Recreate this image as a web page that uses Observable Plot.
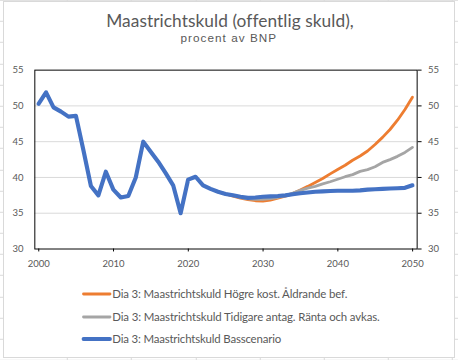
<!DOCTYPE html>
<html>
<head>
<meta charset="utf-8">
<script src="https://cdn.jsdelivr.net/npm/d3@7"></script>
<script src="https://cdn.jsdelivr.net/npm/@observablehq/plot@0.6"></script>
<style>
  html, body { margin: 0; padding: 0; }
  body {
    width: 458px; height: 360px; overflow: hidden; position: relative;
    background-color: #fff;
    background-image:
      repeating-linear-gradient(to bottom, transparent 0, transparent 20.19px, #dadada 20.19px, #dadada 21.19px),
      repeating-linear-gradient(to right, transparent 0, transparent 63.2px, #dadada 63.2px, #dadada 64.2px);
    background-position: 0 0.8px, 3.8px 0;
    font-family: Lato, "Liberation Sans", sans-serif;
  }
  #chart {
    position: absolute; left: 3px; top: 1px; width: 450px; height: 355px;
    background: #fff; border: 1px solid #d9d9d9;
  }
  .t { position: absolute; white-space: nowrap; color: #595959; line-height: 1; }
  #plot { position: absolute; left: -4px; top: 49px; }
  .leg { position: absolute; }
</style>
</head>
<body>
<div id="chart"></div>
<script>
const title = "Maastrichtskuld (offentlig skuld),";
const subtitle = "procent av BNP";
const seriesNames = [
  "Dia 3: Maastrichtskuld Högre kost. Åldrande bef.",
  "Dia 3: Maastrichtskuld Tidigare antag. Ränta och avkas.",
  "Dia 3: Maastrichtskuld Basscenario"
];
const seriesColors = ["#ED7D31", "#A5A5A5", "#4472C4"];

const years = [2000,2001,2002,2003,2004,2005,2006,2007,2008,2009,
  2010,2011,2012,2013,2014,2015,2016,2017,2018,2019,
  2020,2021,2022,2023,2024,2025,2026,2027,2028,2029,
  2030,2031,2032,2033,2034,2035,2036,2037,2038,2039,
  2040,2041,2042,2043,2044,2045,2046,2047,2048,2049,2050];

const basscenario = [50.3,51.9,49.8,49.2,48.5,48.6,43.8,38.8,37.5,40.8,
  38.3,37.2,37.4,40.0,45.0,43.6,42.2,40.6,38.9,35.0,
  39.7,40.1,38.9,38.4,38.0,37.7,37.5,37.3,37.15,37.2,
  37.3,37.35,37.4,37.5,37.65,37.8,37.9,38.0,38.05,38.1,
  38.15,38.15,38.15,38.2,38.3,38.35,38.4,38.45,38.5,38.55,38.9];

const projYears = [2024,2025,2026,2027,2028,2029,2030,2031,2032,2033,
  2034,2035,2036,2037,2038,2039,2040,2041,2042,2043,
  2044,2045,2046,2047,2048,2049,2050];

const hogreKost = [38.0,37.7,37.4,37.1,36.9,36.75,36.7,36.85,37.1,37.4,
  37.75,38.25,38.75,39.3,39.85,40.5,41.1,41.7,42.4,43.0,
  43.7,44.6,45.6,46.7,48.0,49.5,51.2];

const tidigareAntag = [38.0,37.7,37.45,37.2,37.0,36.95,36.95,37.05,37.2,37.45,
  37.8,38.2,38.5,38.75,39.1,39.4,39.75,40.1,40.4,40.85,
  41.1,41.5,42.1,42.5,42.95,43.5,44.2];

const xTicks = [2000, 2010, 2020, 2030, 2040, 2050];
const yTicks = [30, 35, 40, 45, 50, 55];
const gridTicks = [35, 40, 45, 50];

const FONT = 'Lato';
const FONTS = {
  Lato: {cap: 0.7165, asc: 0.987, desc: 0.213},
  'Liberation Sans': {cap: 0.716, asc: 0.905, desc: 0.212}
};
const canvas = document.createElement('canvas');
const ctx = canvas.getContext('2d');
function addText(text, x, baseline, width, capHeight, anchor, family) {
  family = family || FONT;
  const m = FONTS[family];
  const fs = capHeight / m.cap;
  ctx.font = `${fs}px "${family}"`;
  const ls = (width - ctx.measureText(text).width) / text.length;
  const el = document.createElement('div');
  el.className = 't';
  el.textContent = text;
  el.style.fontSize = fs + 'px';
  el.style.fontFamily = `"${family}"`;
  el.style.letterSpacing = ls + 'px';
  // line-height 1: baseline sits at top + (1 - asc - desc)/2*fs + asc*fs
  el.style.top = (baseline - ((1 - m.asc - m.desc) / 2 + m.asc) * fs) + 'px';
  el.style.left = (anchor === 'middle' ? x - width / 2 + ls / 2 : x) + 'px';
  document.body.appendChild(el);
}

addText(title, 229.7, 27.6, 247, 12.4, 'middle', 'Lato');
addText(subtitle, 228.3, 41.6, 96.7, 8.4, 'middle', 'Liberation Sans');

const toRows = (xs, ys) => xs.map((y, i) => ({year: y, value: ys[i]}));
const orangeRows = toRows(projYears, hogreKost);
const grayRows = toRows(projYears, tidigareAntag);
const blueRows = toRows(years, basscenario);

const chart = Plot.plot({
  width: 466, height: 231,
  marginTop: 21, marginBottom: 28, marginLeft: 39, marginRight: 38,
  x: {domain: [2000, 2051.13]},
  y: {domain: [30, 55]},
  style: {fontFamily: FONT, fontSize: '9.7px', color: '#595959', background: 'transparent', overflow: 'visible'},
  marks: [
    Plot.gridY(gridTicks, {stroke: '#d9d9d9', strokeOpacity: 1, strokeWidth: 1}),
    Plot.lineY(orangeRows, {x: d => d.year + 0.5, y: 'value', stroke: seriesColors[0], strokeWidth: 2.9, strokeLinejoin: 'round', strokeLinecap: 'round'}),
    Plot.lineY(grayRows, {x: d => d.year + 0.5, y: 'value', stroke: seriesColors[1], strokeWidth: 2.9, strokeLinejoin: 'round', strokeLinecap: 'round'}),
    Plot.lineY(blueRows, {x: d => d.year + 0.5, y: 'value', stroke: seriesColors[2], strokeWidth: 4.2, strokeLinejoin: 'round', strokeLinecap: 'round'}),
    Plot.frame({stroke: '#000', strokeWidth: 1}),
    Plot.axisY(yTicks, {anchor: 'left', tickSize: 0, tickPadding: 11.5, fill: '#595959', tickFormat: d => String(d), label: null}),
    Plot.axisY(yTicks, {anchor: 'right', tickSize: 4, tickPadding: 7, stroke: '#000', fill: '#595959', tickFormat: d => String(d), label: null}),
    Plot.axisX(xTicks, {anchor: 'bottom', tickSize: 3, tickPadding: 8.5, dx: 4, stroke: '#000', fill: '#595959', tickFormat: d => String(d), label: null})
  ]
});
chart.id = 'plot';
document.body.appendChild(chart);

// legend
const legBaselines = [298.3, 320.8, 343.3];
const legWidths = [235.3, 267.7, 168.7];
const legWeights = [2.8, 2.8, 3.8];
seriesNames.forEach((name, i) => {
  const svgNS = 'http://www.w3.org/2000/svg';
  const s = document.createElementNS(svgNS, 'svg');
  s.setAttribute('width', 32); s.setAttribute('height', 10);
  s.setAttribute('class', 'leg');
  s.style.left = '81px';
  s.style.top = (legBaselines[i] - 4 - 5) + 'px';
  const l = document.createElementNS(svgNS, 'line');
  l.setAttribute('x1', 2.5); l.setAttribute('x2', 29);
  l.setAttribute('y1', 5); l.setAttribute('y2', 5);
  l.setAttribute('stroke', seriesColors[i]);
  l.setAttribute('stroke-width', legWeights[i]);
  l.setAttribute('stroke-linecap', 'round');
  s.appendChild(l);
  document.body.appendChild(s);
  addText(name, 112.3, legBaselines[i], legWidths[i], 8.2, 'start', 'Lato');
});
</script>
</body>
</html>
